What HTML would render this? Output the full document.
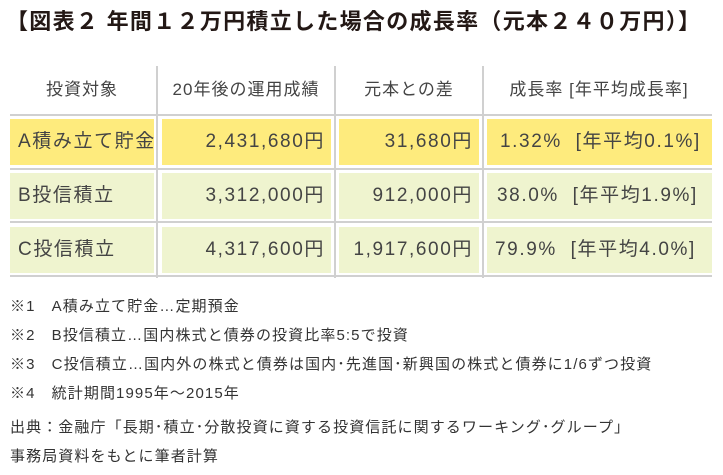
<!DOCTYPE html>
<html><head><meta charset="utf-8"><style>
body{margin:0;width:723px;height:475px;background:#fff;position:relative;overflow:hidden;font-family:"Liberation Sans","Noto Sans CJK JP",sans-serif;color:#444}
.a{position:absolute;white-space:nowrap}
.title{left:6px;top:6px;font-size:22px;font-weight:bold;color:#231815;line-height:32px;letter-spacing:1.3px}
.vl{position:absolute;width:2px;background:#d0d0d0}
.hl{position:absolute;height:2px;background:#d0d0d0;left:10px;width:702px}
.c{position:absolute;font-size:19px;line-height:46px;box-sizing:border-box;white-space:nowrap;letter-spacing:1.6px}
.y{background:#feeb7d}.g{background:#eff4cf}
.h{position:absolute;font-size:17px;line-height:50px;text-align:center;top:65px;letter-spacing:1px}
.n{font-size:15px;left:10px;color:#333;letter-spacing:1.1px}
</style></head><body>
<div class="a title">【図表２ 年間１２万円積立した場合の成長率（元本２４０万円）】</div>
<div>
<div class="vl" style="left:156px;top:66px;height:212px"></div>
<div class="vl" style="left:334px;top:66px;height:212px"></div>
<div class="vl" style="left:482px;top:66px;height:212px"></div>
<div class="hl" style="top:114px"></div>
<div class="hl" style="top:168px"></div>
<div class="hl" style="top:221px"></div>
<div class="hl" style="top:275px"></div>
<div class="h" style="left:10px;width:144px">投資対象</div>
<div class="h" style="left:160px;width:172px">20年後の運用成績</div>
<div class="h" style="left:338px;width:142px">元本との差</div>
<div class="h" style="left:486px;width:226px">成長率 [年平均成長率]</div>

<div class="c y" style="left:10px;top:119px;width:144px;padding-left:8px">A積み立て貯金</div>
<div class="c y" style="left:162px;top:119px;width:169px;text-align:right;padding-right:6px">2,431,680円</div>
<div class="c y" style="left:339px;top:119px;width:140px;text-align:right;padding-right:6px">31,680円</div>
<div class="c y" style="left:487px;top:119px;width:225px;padding-left:13px">1.32% &nbsp;[年平均0.1%]</div>

<div class="c g" style="left:10px;top:173px;width:144px;padding-left:8px">B投信積立</div>
<div class="c g" style="left:162px;top:173px;width:169px;text-align:right;padding-right:6px">3,312,000円</div>
<div class="c g" style="left:339px;top:173px;width:140px;text-align:right;padding-right:6px">912,000円</div>
<div class="c g" style="left:487px;top:173px;width:225px;padding-left:10px">38.0% &nbsp;[年平均1.9%]</div>

<div class="c g" style="left:10px;top:227px;width:144px;padding-left:8px">C投信積立</div>
<div class="c g" style="left:162px;top:227px;width:169px;text-align:right;padding-right:6px">4,317,600円</div>
<div class="c g" style="left:339px;top:227px;width:140px;text-align:right;padding-right:6px">1,917,600円</div>
<div class="c g" style="left:487px;top:227px;width:225px;padding-left:8px">79.9% &nbsp;[年平均4.0%]</div>
</div>

<div class="a n" style="top:295px">※1　A積み立て貯金…定期預金</div>
<div class="a n" style="top:324px">※2　B投信積立…国内株式と債券の投資比率5:5で投資</div>
<div class="a n" style="top:353px">※3　C投信積立…国内外の株式と債券は国内･先進国･新興国の株式と債券に1/6ずつ投資</div>
<div class="a n" style="top:382px">※4　統計期間1995年～2015年</div>
<div class="a n" style="top:416px">出典：金融庁「長期･積立･分散投資に資する投資信託に関するワーキング･グループ」</div>
<div class="a n" style="top:445px">事務局資料をもとに筆者計算</div>
</body></html>
